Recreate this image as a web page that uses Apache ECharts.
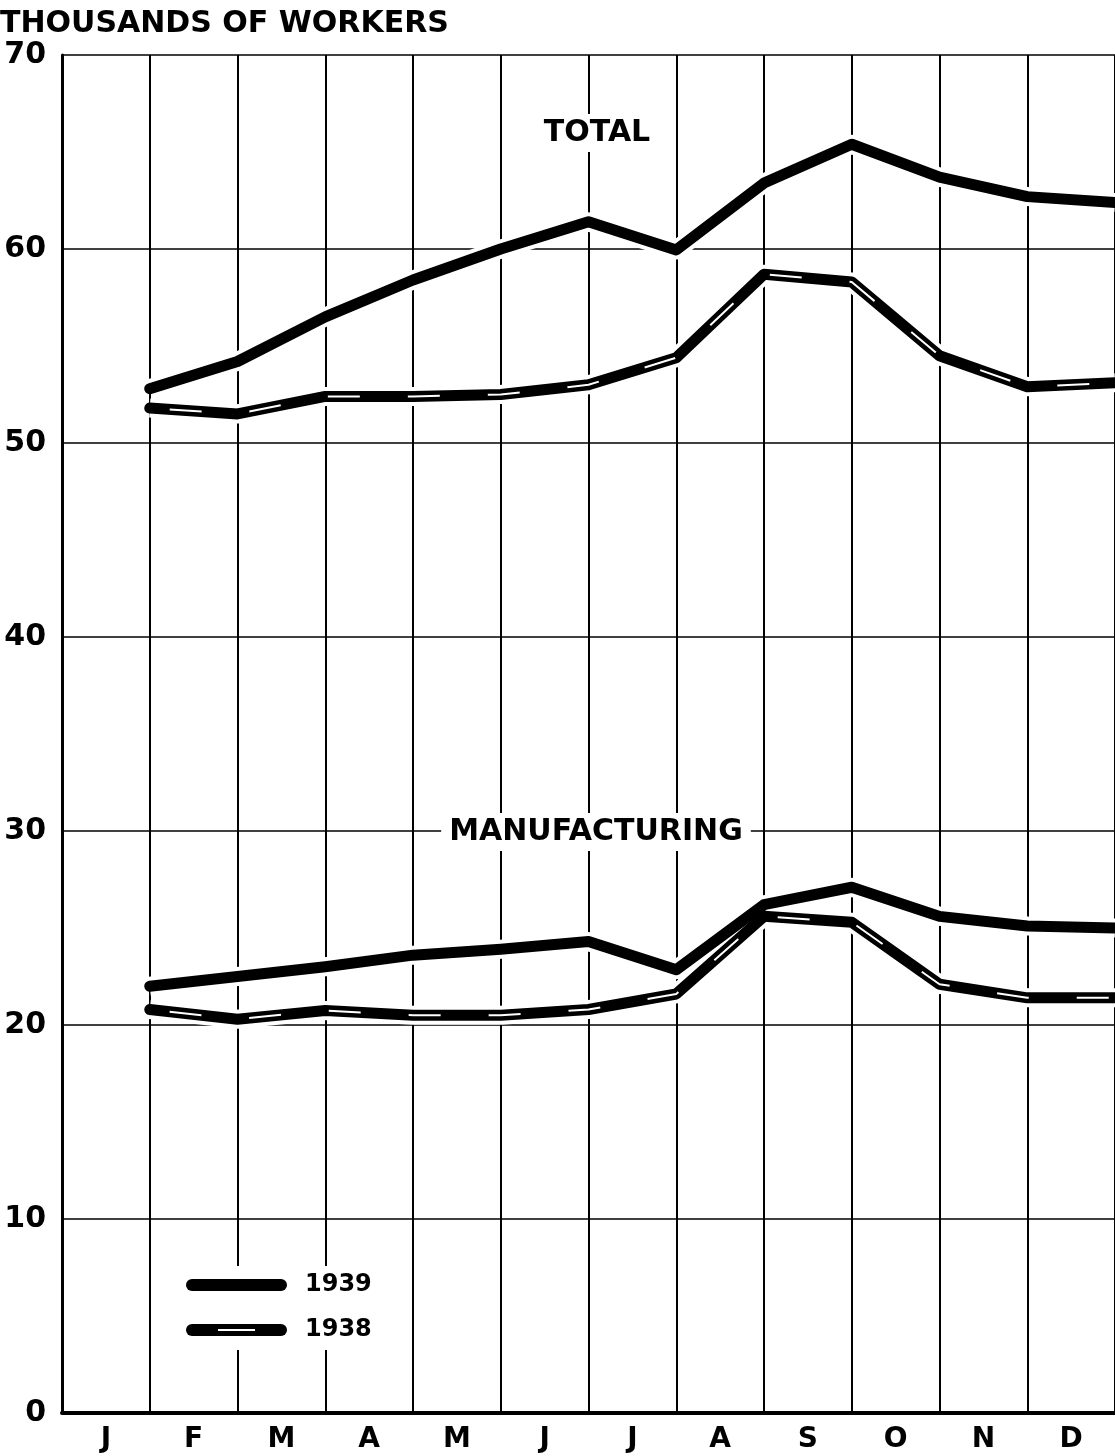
<!DOCTYPE html>
<html>
<head>
<meta charset="utf-8">
<script src="https://cdn.jsdelivr.net/npm/echarts@6/dist/echarts.min.js"></script>
<style>
html,body{margin:0;padding:0;background:#fff;}
#chart{width:1115px;height:1456px;}
</style>
</head>
<body>
<div id="chart"></div>
<script>
const months = ['J','F','M','A','M','J','J','A','S','O','N','D'];
const yTicks = [0,10,20,30,40,50,60,70];
// values plotted at the end of each month (thousands of workers)
const total1939 = [52.8, 54.2, 56.5, 58.4, 60.0, 61.4, 59.95, 63.4, 65.4, 63.7, 62.7, 62.4];
const total1938 = [51.8, 51.5, 52.4, 52.4, 52.5, 53.0, 54.4, 58.7, 58.3, 54.5, 52.9, 53.1];
const manuf1939 = [22.0, 22.5, 23.0, 23.6, 23.9, 24.3, 22.85, 26.2, 27.1, 25.6, 25.1, 25.0];
const manuf1938 = [20.8, 20.3, 20.75, 20.5, 20.5, 20.8, 21.6, 25.6, 25.3, 22.1, 21.4, 21.4];

const FONT = '"DejaVu Sans", "Liberation Sans", sans-serif';
const pts = arr => arr.map((v, i) => [i + 1, v]);

const chart = echarts.init(document.getElementById('chart'), null, {renderer: 'canvas'});

function halo(data) {
  return {type: 'line', xAxisIndex: 1, data: pts(data), symbol: 'none', silent: true, z: 2,
    lineStyle: {color: '#fff', width: 19, join: 'round'}};
}
function solid(data) {
  return {type: 'line', xAxisIndex: 1, data: pts(data), symbol: 'none', silent: true, z: 3,
    lineStyle: {color: '#000', width: 11, join: 'round', cap: 'round'}};
}
function dashed(data) {
  return {type: 'line', xAxisIndex: 1, data: pts(data), symbol: 'none', silent: true, z: 4,
    lineStyle: {color: '#fff', width: 2, type: [32, 48], dashOffset: -20}};
}

chart.setOption({
  animation: false,
  backgroundColor: '#fff',
  grid: {left: 62, right: 0, top: 55, bottom: 43, containLabel: false},
  xAxis: [
    {
      type: 'category', data: months, boundaryGap: true,
      axisLine: {show: true, lineStyle: {color: '#000', width: 4}},
      axisTick: {show: false},
      axisLabel: {color: '#000', fontFamily: FONT, fontWeight: 'bold', fontSize: 28, margin: 13},
      splitLine: {show: true, lineStyle: {color: '#000', width: 2}}
    },
    {type: 'value', min: 0, max: 12, show: false}
  ],
  yAxis: {
    type: 'value', min: 0, max: 70, interval: 10,
    axisLine: {show: true, lineStyle: {color: '#000', width: 3}},
    axisTick: {show: false},
    axisLabel: {color: '#000', fontFamily: FONT, fontWeight: 'bold', fontSize: 30, margin: 16,
      formatter: v => yTicks.includes(v) ? String(v) : ''},
    splitLine: {show: true, lineStyle: {color: '#000', width: 1.5}}
  },
  series: [
    halo(total1939), halo(total1938), halo(manuf1939), halo(manuf1938),
    solid(total1938), solid(manuf1938), solid(total1939), solid(manuf1939),
    dashed(total1938), dashed(manuf1938)
  ],
  graphic: [
    {type: 'text', left: 0, top: 9, z: 10,
      style: {text: 'THOUSANDS OF WORKERS', font: 'bold 30px ' + FONT, fill: '#000'}},
    {type: 'text', x: 597, y: 133, z: 10,
      style: {text: 'TOTAL', font: 'bold 30px ' + FONT, fill: '#000', align: 'center', verticalAlign: 'middle',
        backgroundColor: '#fff', padding: [4, 8]}},
    {type: 'text', x: 596, y: 832, z: 10,
      style: {text: 'MANUFACTURING', font: 'bold 30px ' + FONT, fill: '#000', align: 'center', verticalAlign: 'middle',
        backgroundColor: '#fff', padding: [4, 8]}},
    // legend
    {type: 'rect', z: 10, shape: {x: 176, y: 1266, width: 206, height: 84}, style: {fill: '#fff'}},
    {type: 'rect', z: 11, shape: {x: 186, y: 1279, width: 101, height: 12, r: 6}, style: {fill: '#000'}},
    {type: 'text', x: 305, y: 1285, z: 11,
      style: {text: '1939', font: 'bold 24px ' + FONT, fill: '#000', verticalAlign: 'middle'}},
    {type: 'rect', z: 11, shape: {x: 186, y: 1324, width: 101, height: 12, r: 6}, style: {fill: '#000'}},
    {type: 'line', z: 12, shape: {x1: 218, y1: 1330, x2: 255, y2: 1330}, style: {stroke: '#fff', lineWidth: 2}},
    {type: 'text', x: 305, y: 1330, z: 11,
      style: {text: '1938', font: 'bold 24px ' + FONT, fill: '#000', verticalAlign: 'middle'}}
  ]
});
</script>
</body>
</html>
